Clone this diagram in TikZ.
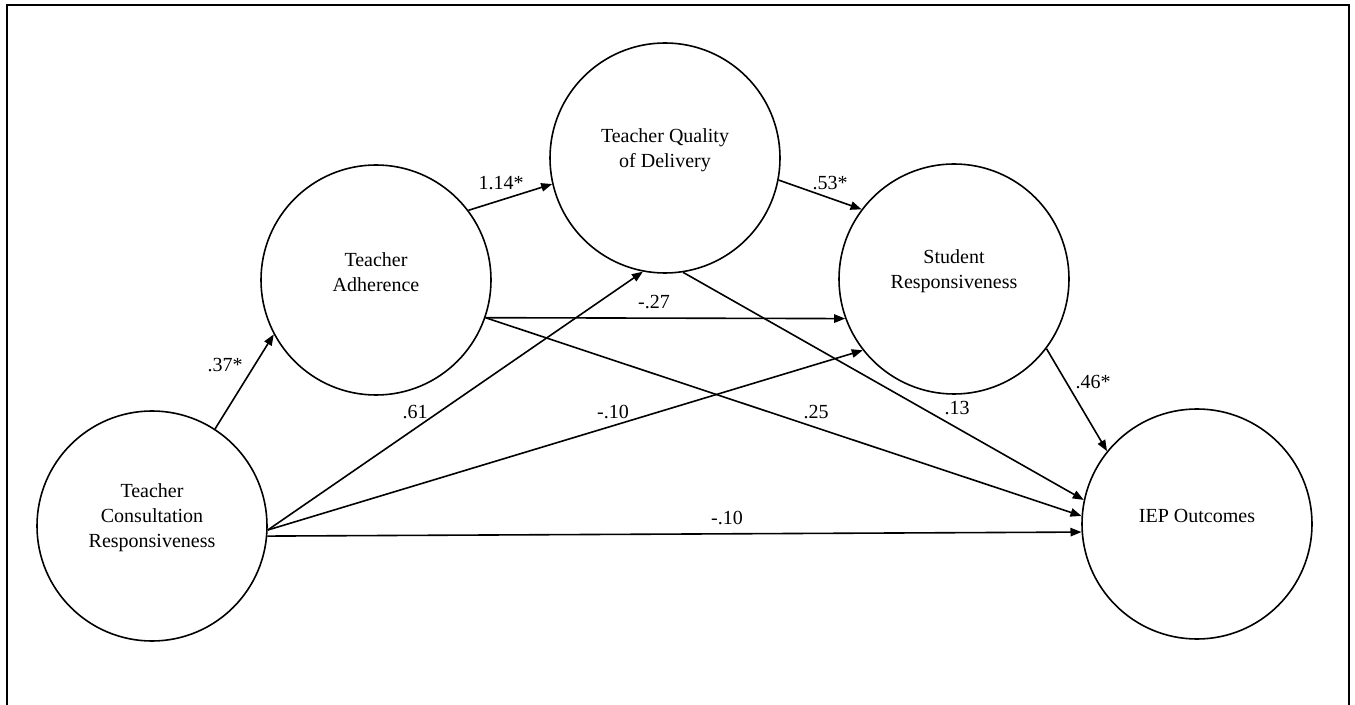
\documentclass[tikz,border=0pt]{standalone}
\usepackage{fontspec}
\setmainfont{Liberation Serif}
\usetikzlibrary{arrows.meta}
\tikzset{
  latent/.style={circle, draw, line width=0.8pt, minimum size=115pt,
                 inner sep=0pt},
  inside/.style={font=\fontsize{10}{12.5}\selectfont, align=center,
                 yshift=4pt},
  coef/.style={font=\fontsize{10}{12}\selectfont, inner sep=1pt},
  arr/.style={-{Triangle[length=5.5pt, width=4.2pt]}, line width=0.8pt},
  frame/.style={line width=1.3pt},
}

\begin{document}
\begin{tikzpicture}[x=0.5pt, y=-0.5pt]

  \useasboundingbox (0,0) rectangle (1355,705);
  \draw[frame] (7,705) -- (7,5) -- (1349,5) -- (1349,705);

  % latent variables
  \node[latent, label={[inside]center:Teacher\\Consultation\\Responsiveness}] (tcr) at (152,526) {};
  \node[latent, label={[inside]center:Teacher\\Adherence}] (ta) at (376,280) {};
  \node[latent, label={[inside]center:Teacher Quality\\of Delivery}] (tqd) at (665,158) {};
  \node[latent, label={[inside]center:Student\\Responsiveness}] (sr) at (954,279) {};
  \node[latent, label={[inside]center:IEP Outcomes}] (iep) at (1197,524) {};

  % paths
  \draw[arr] (tcr.57)  -- (ta.208);
  \draw[arr] (ta.37)   -- (tqd.193);
  \draw[arr] (tqd.-11) -- (sr.143);
  \draw[arr] (ta.-19)  -- (sr.200);
  \draw[arr] (ta.-19)  -- (iep.176);
  \draw[arr] (tqd.-81) -- (iep.168);
  \draw[arr] (tcr.-2)  -- (tqd.-101);
  \draw[arr] (tcr.-2)  -- (sr.218);
  \draw[arr] (tcr.-5)  -- (iep.184);
  \draw[arr] (sr.-37)  -- (iep.141);

  % coefficients
  \node[coef] (c37)  at (225,365)  {.37*};
  \node[coef] (c114) at (501,183)  {1.14*};
  \node[coef] (c53)  at (830,183)  {.53*};
  \node[coef] (c27)  at (654,302)  {-.27};
  \node[coef] (c61)  at (415,412)  {.61};
  \node[coef] (c10a) at (613,412)  {-.10};
  \node[coef] (c25)  at (816,412)  {.25};
  \node[coef] (c13)  at (957,408)  {.13};
  \node[coef] (c46)  at (1093,382) {.46*};
  \node[coef] (c10b) at (727,518)  {-.10};

\end{tikzpicture}
\end{document}
